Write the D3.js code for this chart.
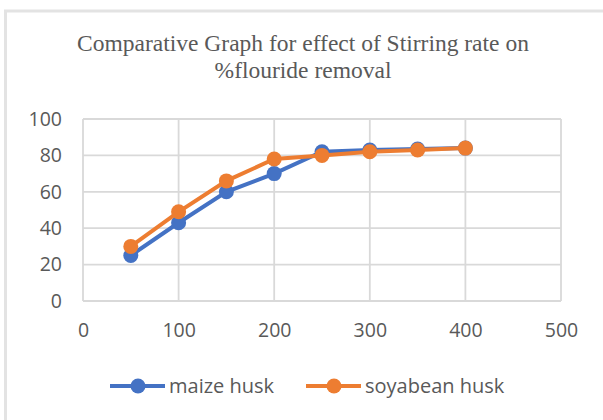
<!DOCTYPE html>
<head>
<meta charset="utf-8">
<script src="https://d3js.org/d3.v7.min.js"></script>
</head>
<style>
body { margin: 0; background: #fff; }
.grid line { stroke: #d9d9d9; stroke-width: 1.8px; }
.tick text { fill: #595959; font-family: "Open Sans", "Liberation Sans", sans-serif; font-size: 19.5px; }
.line { fill: none; stroke-width: 4px; }
</style>
<body>
<script>
var stirring = [50, 100, 150, 200, 250, 300, 350, 400];
var maizeHusk = [25, 43, 60, 70, 82, 83, 83.5, 84];
var soyabeanHusk = [30, 49, 66, 78, 80, 82, 83, 84];
var xTicks = [0, 100, 200, 300, 400, 500];
var yTicks = [0, 20, 40, 60, 80, 100];
var seriesNames = ["maize husk", "soyabean husk"];
var colors = ["#4472C4", "#ED7D31"];

var W = 603, H = 420;
var margin = {top: 119, right: 42, bottom: 119, left: 83},
    width = W - margin.left - margin.right,
    height = H - margin.top - margin.bottom;

var svg = d3.select("body").append("svg")
    .attr("width", W)
    .attr("height", H);

// chart frame (only left and top visible)
svg.append("rect")
    .attr("x", 5.5).attr("y", 11)
    .attr("width", 640).attr("height", 460)
    .attr("fill", "#fff")
    .attr("stroke", "#e3e3e3")
    .attr("stroke-width", 3);

svg.append("text")
    .attr("text-anchor", "middle")
    .attr("fill", "#595959")
    .style("font-family", "'Liberation Serif', 'Times New Roman', serif")
    .style("font-size", "23.5px")
    .selectAll("tspan")
    .data(["Comparative Graph for effect of Stirring rate on", "%flouride removal"])
    .enter().append("tspan")
    .attr("x", 303)
    .attr("y", function(d, i) { return 51 + i * 27; })
    .text(function(d) { return d; });

var g = svg.append("g")
    .attr("transform", "translate(" + margin.left + "," + margin.top + ")");

var x = d3.scaleLinear().domain([0, 500]).range([0, width]);
var y = d3.scaleLinear().domain([0, 100]).range([height, 0]);

g.append("g").attr("class", "grid")
  .selectAll("line.h").data(yTicks).enter().append("line")
    .attr("x1", 0).attr("x2", width)
    .attr("y1", function(d) { return y(d); })
    .attr("y2", function(d) { return y(d); });
g.append("g").attr("class", "grid")
  .selectAll("line.v").data(xTicks).enter().append("line")
    .attr("y1", 0).attr("y2", height)
    .attr("x1", function(d) { return x(d); })
    .attr("x2", function(d) { return x(d); });

var xAxis = g.append("g")
    .attr("transform", "translate(0," + height + ")")
    .call(d3.axisBottom(x).tickValues(xTicks).tickSize(0).tickPadding(22));
xAxis.select(".domain").remove();

var yAxis = g.append("g")
    .call(d3.axisLeft(y).tickValues(yTicks).tickSize(0).tickPadding(21));
yAxis.select(".domain").remove();

var data = [maizeHusk, soyabeanHusk];
var line = d3.line()
    .x(function(d, i) { return x(stirring[i]); })
    .y(function(d) { return y(d); });

data.forEach(function(vals, k) {
  g.append("path")
      .datum(vals)
      .attr("class", "line")
      .attr("stroke", colors[k])
      .attr("d", line);
  g.selectAll(".dot" + k)
      .data(vals)
      .enter().append("circle")
      .attr("cx", function(d, i) { return x(stirring[i]); })
      .attr("cy", function(d) { return y(d); })
      .attr("r", 7.5)
      .attr("fill", colors[k]);
});

// legend
var legendX = [110, 306];
var legend = svg.selectAll(".legend")
    .data(seriesNames)
    .enter().append("g")
    .attr("transform", function(d, i) { return "translate(" + legendX[i] + ",386)"; });
legend.append("line")
    .attr("x1", 0).attr("x2", 55)
    .attr("stroke", function(d, i) { return colors[i]; })
    .attr("stroke-width", 4);
legend.append("circle")
    .attr("cx", 28).attr("r", 7.5)
    .attr("fill", function(d, i) { return colors[i]; });
legend.append("text")
    .attr("x", 59).attr("dy", "0.35em")
    .attr("fill", "#595959")
    .style("font-family", "'Open Sans', 'Liberation Sans', sans-serif")
    .style("font-size", "20px")
    .text(function(d) { return d; });
</script>
</body>
